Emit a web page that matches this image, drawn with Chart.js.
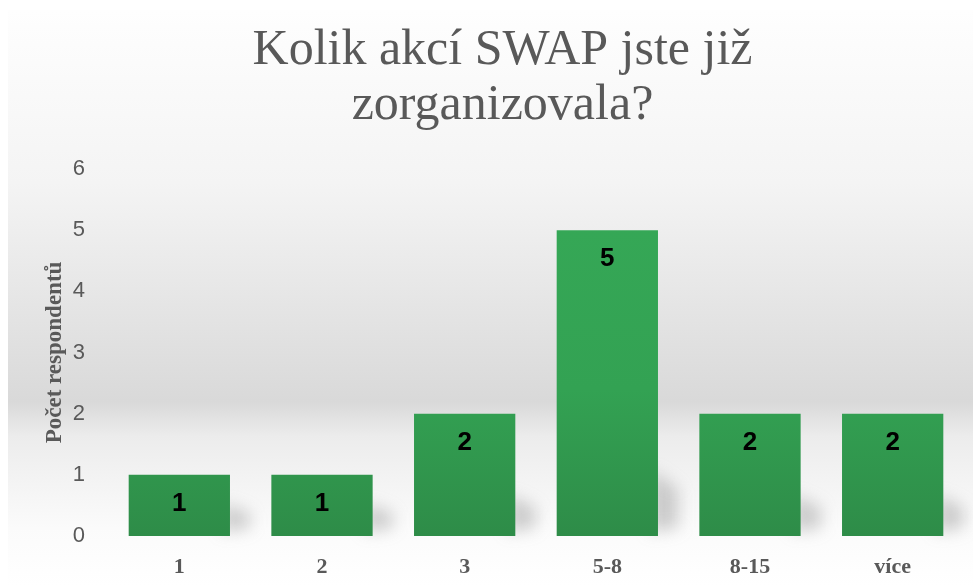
<!DOCTYPE html>
<html>
<head>
<meta charset="utf-8">
<script src="https://cdn.jsdelivr.net/npm/chart.js@4"></script>
<style>
  html, body { margin: 0; padding: 0; background: #fff; }
  canvas { display: block; }
</style>
</head>
<body>
<canvas id="swapChart" width="973" height="586"></canvas>
<script>
const categories = ['1', '2', '3', '5-8', '8-15', 'více'];
const respondents = [1, 1, 2, 5, 2, 2];
const yTicks = [0, 1, 2, 3, 4, 5, 6];

const GREY_TEXT = '#595959';

// panel background with the grey band behind the lower half
const panelBackground = {
    id: 'panelBackground',
    beforeDraw(chart) {
        const { ctx, width, height } = chart;
        ctx.save();
        ctx.fillStyle = '#ffffff';
        ctx.fillRect(0, 0, width, height);
        const g = ctx.createLinearGradient(0, 10, 0, height);
        g.addColorStop(0, '#fefefe');
        g.addColorStop(0.3, '#f4f4f4');
        g.addColorStop(0.68, '#d9d9d9');
        g.addColorStop(0.74, '#ececec');
        g.addColorStop(0.9, '#fbfbfb');
        g.addColorStop(1, '#ffffff');
        ctx.fillStyle = g;
        ctx.fillRect(8, 10, width - 8, height - 10);
        ctx.restore();
    }
};

// soft shadow to the right of every bar
const barShadows = {
    id: 'barShadows',
    beforeDatasetsDraw(chart) {
        const { ctx } = chart;
        const meta = chart.getDatasetMeta(0);
        ctx.save();
        ctx.filter = 'blur(8px)';
        ctx.fillStyle = 'rgba(120,120,120,0.35)';
        meta.data.forEach((bar) => {
            const right = bar.x + bar.width / 2;
            const h = bar.base - bar.y;
            const sh = 24 + h * 0.14;
            ctx.beginPath();
            ctx.moveTo(right - 8, bar.base - 4);
            ctx.lineTo(right - 8, bar.base - sh);
            ctx.lineTo(right + 20, bar.base - sh * 0.7);
            ctx.lineTo(right + 20, bar.base - 8);
            ctx.closePath();
            ctx.fill();
        });
        ctx.restore();
    }
};

// value labels near the top of each bar
const valueLabels = {
    id: 'valueLabels',
    afterDatasetsDraw(chart) {
        const { ctx } = chart;
        const meta = chart.getDatasetMeta(0);
        ctx.save();
        ctx.font = 'bold 26px "Liberation Sans", Arial, sans-serif';
        ctx.fillStyle = '#000000';
        ctx.textAlign = 'center';
        ctx.textBaseline = 'middle';
        meta.data.forEach((bar, i) => {
            const mid = (bar.y + bar.base) / 2;
            ctx.fillText(String(respondents[i]), bar.x, Math.min(bar.y + 28, mid) + 1);
        });
        ctx.restore();
    }
};

const ctx = document.getElementById('swapChart').getContext('2d');
new Chart(ctx, {
    type: 'bar',
    data: {
        labels: categories,
        datasets: [{
            label: 'Počet respondentů',
            data: respondents,
            backgroundColor: (c) => {
                const area = c.chart.chartArea;
                if (!area) return '#33a455';
                const g = c.chart.ctx.createLinearGradient(0, area.top, 0, area.bottom);
                g.addColorStop(0, '#36a957');
                g.addColorStop(0.6, '#33a253');
                g.addColorStop(1, '#2e8c48');
                return g;
            },
            borderWidth: 0,
            categoryPercentage: 1,
            barPercentage: 0.71
        }]
    },
    options: {
        responsive: false,
        animation: false,
        layout: { padding: { left: 41, right: 9, top: 0, bottom: 0 } },
        plugins: {
            legend: { display: false },
            tooltip: { enabled: false },
            title: {
                display: true,
                text: ['Kolik akcí SWAP jste již', 'zorganizovala?'],
                color: GREY_TEXT,
                font: { family: '"Liberation Serif", "Times New Roman", serif', size: 50, weight: 'normal', lineHeight: 1.1 },
                padding: { top: 23, bottom: 36 }
            }
        },
        scales: {
            x: {
                grid: { display: false },
                border: { display: false },
                ticks: {
                    color: GREY_TEXT,
                    padding: 10,
                    font: { family: '"Liberation Serif", "Times New Roman", serif', size: 22, weight: 'bold' }
                },
                afterFit: (scale) => { scale.height = 50; }
            },
            y: {
                min: 0,
                max: 6,
                afterBuildTicks: (scale) => { scale.ticks = yTicks.map((v) => ({ value: v })); },
                grid: { display: false },
                border: { display: false },
                ticks: {
                    color: GREY_TEXT,
                    padding: 15,
                    font: { family: '"Liberation Sans", Arial, sans-serif', size: 22 }
                },
                title: {
                    display: true,
                    text: 'Počet respondentů',
                    color: GREY_TEXT,
                    padding: 0,
                    font: { family: '"Liberation Serif", "Times New Roman", serif', size: 23, weight: 'bold' }
                },
                afterFit: (scale) => { scale.width = 67; }
            }
        }
    },
    plugins: [panelBackground, barShadows, valueLabels]
});
</script>
</body>
</html>
